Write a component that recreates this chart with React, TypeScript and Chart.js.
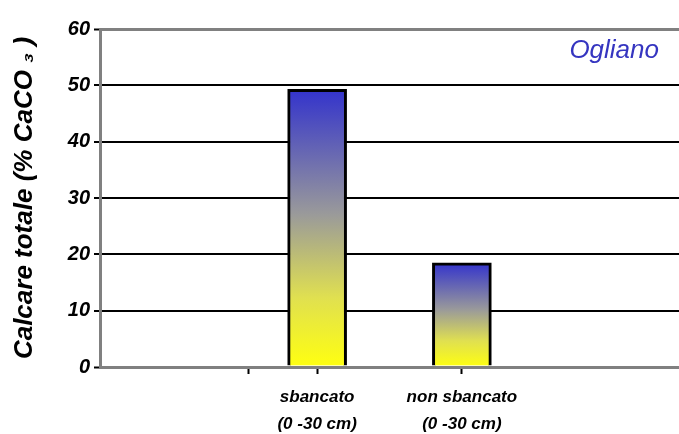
import React, { useEffect, useRef } from "react";
import { Chart, registerables } from "chart.js";
Chart.register(...registerables);

const categories: string[][] = [["sbancato", "(0 -30 cm)"], ["non sbancato", "(0 -30 cm)"]];
const positions: number[] = [3, 5];
const values: number[] = [49.3, 18.5];
const extraTick: number = 2.05;
const yTicks: number[] = [0, 10, 20, 30, 40, 50, 60];
const titleText = "Ogliano";
const yTitle = "Calcare totale (% CaCO ₃ )";

const FONT = "'Liberation Sans', Arial, sans-serif";

export default function App() {
  const ref = useRef<HTMLCanvasElement>(null);
  useEffect(() => {
    document.body.style.margin = "0";
    const canvas = ref.current!;
    const titlePlugin = {
      id: "cornerTitle",
      afterDraw(chart: any) {
        const c = chart.ctx;
        c.save();
        c.font = `italic 26px ${FONT}`;
        c.fillStyle = "#3535c0";
        c.textAlign = "right";
        c.textBaseline = "middle";
        c.fillText(titleText, 659, 51);
        c.restore();
      },
    };
    const chart = new Chart(canvas, {
      type: "bar",
      data: {
        datasets: [
          {
            data: positions.map((x, i) => ({ x, y: values[i] })),
            barThickness: 59,
            borderColor: "#000",
            borderWidth: 3,
            backgroundColor: (ctx: any) => {
              const ch = ctx.chart;
              const ys = ch.scales && ch.scales.y;
              if (!ys || !ctx.raw) return "#999";
              const top = ys.getPixelForValue(ctx.raw.y);
              const bottom = ys.getPixelForValue(0);
              if (!isFinite(top) || !isFinite(bottom) || top === bottom) return "#999";
              const g = ch.ctx.createLinearGradient(0, top, 0, bottom);
              g.addColorStop(0, "#3333cc");
              g.addColorStop(0.45, "#9a9a9a");
              g.addColorStop(0.75, "#e0e050");
              g.addColorStop(1, "#ffff10");
              return g;
            },
          } as any,
        ],
      },
      options: {
        animation: false,
        responsive: false,
        maintainAspectRatio: false,
        layout: { padding: { top: 29, right: 0, left: 0, bottom: 0 } },
        plugins: { legend: { display: false }, tooltip: { enabled: false } },
        scales: {
          x: {
            type: "linear",
            min: 0,
            max: 8,
            offset: false,
            afterBuildTicks: (s: any) => {
              s.ticks = [extraTick, ...positions].map((v) => ({ value: v }));
            },
            afterFit: (s: any) => {
              s.height = 67;
            },
            grid: {
              offset: false,
              drawOnChartArea: false,
              drawTicks: true,
              tickLength: 7,
              tickColor: "#000",
              tickWidth: 2,
            },
            border: { color: "#808080", width: 3 },
            ticks: {
              autoSkip: false,
              maxRotation: 0,
              padding: 10,
              color: "#000",
              font: { family: FONT, size: 17, style: "italic", weight: "bold", lineHeight: 1.6 },
              callback: (v: any) => {
                const i = positions.indexOf(Number(v));
                return i >= 0 ? categories[i] : "";
              },
            },
          },
          y: {
            min: 0,
            max: 60,
            afterBuildTicks: (s: any) => {
              s.ticks = yTicks.map((v) => ({ value: v }));
            },
            afterFit: (s: any) => {
              s.width = 100;
            },
            grid: {
              color: (c: any) => (c.tick && (c.tick.value === 0 || c.tick.value === 60) ? "#808080" : "#000"),
              lineWidth: (c: any) => (c.tick && (c.tick.value === 0 || c.tick.value === 60) ? 3 : 2),
              tickColor: "#000",
              tickLength: 6,
              tickWidth: 2,
            },
            border: { color: "#808080", width: 3 },
            ticks: {
              padding: 4,
              color: "#000",
              font: { family: FONT, size: 20, style: "italic", weight: "bold" },
            },
            title: {
              display: true,
              text: yTitle,
              color: "#000",
              padding: { top: 9, bottom: 0 },
              font: { family: FONT, size: 26, style: "italic", weight: "bold" },
            },
          },
        },
      },
      plugins: [titlePlugin],
    } as any);
    return () => chart.destroy();
  }, []);
  return (
    <div style={{ width: 679, height: 434 }}>
      <canvas ref={ref} width={679} height={434} style={{ display: "block" }} />
    </div>
  );
}
